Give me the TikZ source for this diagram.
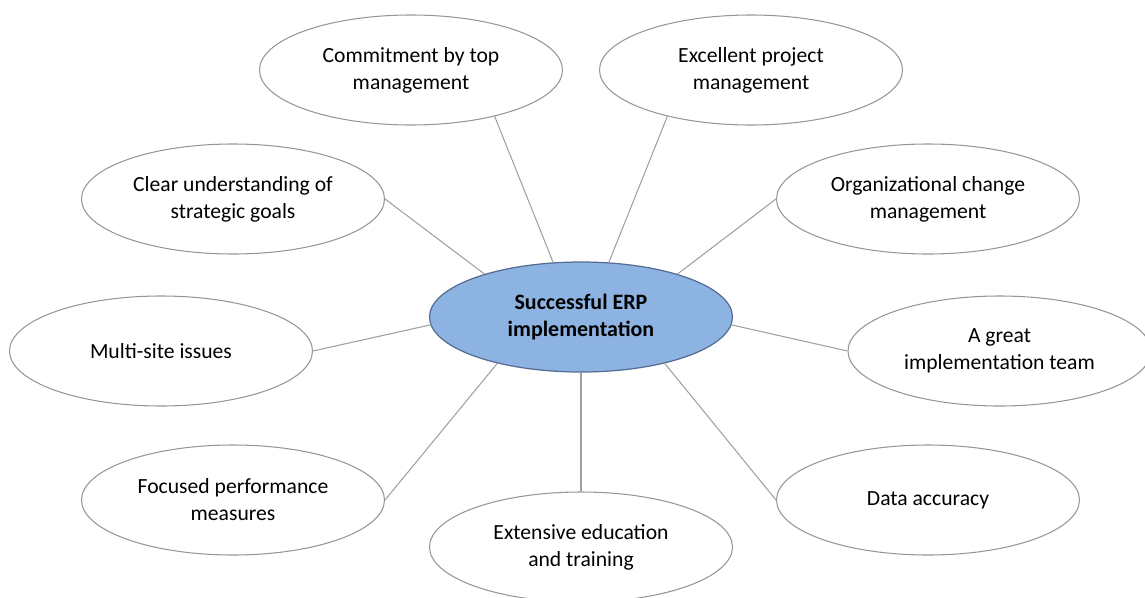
\documentclass[tikz,border=0pt]{standalone}
\usepackage{fontspec}
\setmainfont{Carlito}
\usepackage{tikz}
\usetikzlibrary{shapes.geometric}

\definecolor{erpfill}{RGB}{141,179,226}
\definecolor{erpline}{RGB}{84,108,146}
\definecolor{factorline}{RGB}{150,150,150}
\definecolor{pathline}{RGB}{160,160,160}

\begin{document}
\begin{tikzpicture}[auto,align=center,font=\fontsize{12.3}{15.4}\selectfont,
core/.style={ellipse,draw=erpline,fill=erpfill,line width=0.7pt,inner sep=0pt,minimum width=6.06cm,minimum height=2.2cm,font=\fontsize{12.5}{15.4}\selectfont\bfseries},
factor/.style={ellipse,draw=factorline,line width=0.6pt,inner sep=0pt,minimum width=6.06cm,minimum height=2.2cm},
paths/.style={-, draw=pathline, line width=0.6pt}
]

\useasboundingbox (-11.62,-5.64) rectangle (11.28,6.3);

%% Nodes   %%%%%%%%%%%%%%%%%%%%%%%%%%%%%%%%%%%%%%%%%%%%%%%%%%%%%%%%%%%%%%%%%%%%%%%

%% Mitte
\node [core] (ERP) at (0,-0.04)  {Successful ERP\\implementation};

%% Faktoren
\node [factor] (CTM) at (-3.40, 4.90)  {Commitment by top\\management};
\node [factor] (EPM) at ( 3.40, 4.90)  {Excellent project\\management};
\node [factor] (CUG) at (-6.96, 2.32)  {Clear understanding of\\strategic goals};
\node [factor] (OCM) at ( 6.94, 2.32)  {Organizational change\\management};
\node [factor] (MSI) at (-8.40,-0.72)  {Multi-site issues};
\node [factor] (GIT) at ( 8.37,-0.72)  {A great\\implementation team};
\node [factor] (FPM) at (-6.96,-3.70)  {Focused performance\\measures};
\node [factor] (DA)  at ( 6.94,-3.70)  {Data accuracy};
\node [factor] (EET) at ( 0.00,-4.64)  {Extensive education\\and training};


%% Pfade %%%%%%%%%%%%%%%%%%%%%%%%%%%%%%%%%%%%%%%%%%%%%%%%%%%%%%%%%%%%%%%%%%%%%%%%%%%

%% oben
\draw [paths] (ERP.117)  to (CTM.-29);
\draw [paths] (ERP.63)   to (EPM.-151);
\draw [paths] (ERP.156)  to (CUG.east);
\draw [paths] (ERP.24.5) to (OCM.west);

%% Seiten
\draw [paths] (ERP.183)  to (MSI.east);
\draw [paths] (ERP.-3)   to (GIT.west);

%% unten
\draw [paths] (ERP.-151) to (FPM.east);
\draw [paths] (ERP.-29)  to (DA.west);
\draw [paths] (ERP.south) to (EET.north);

\end{tikzpicture}
\end{document}
